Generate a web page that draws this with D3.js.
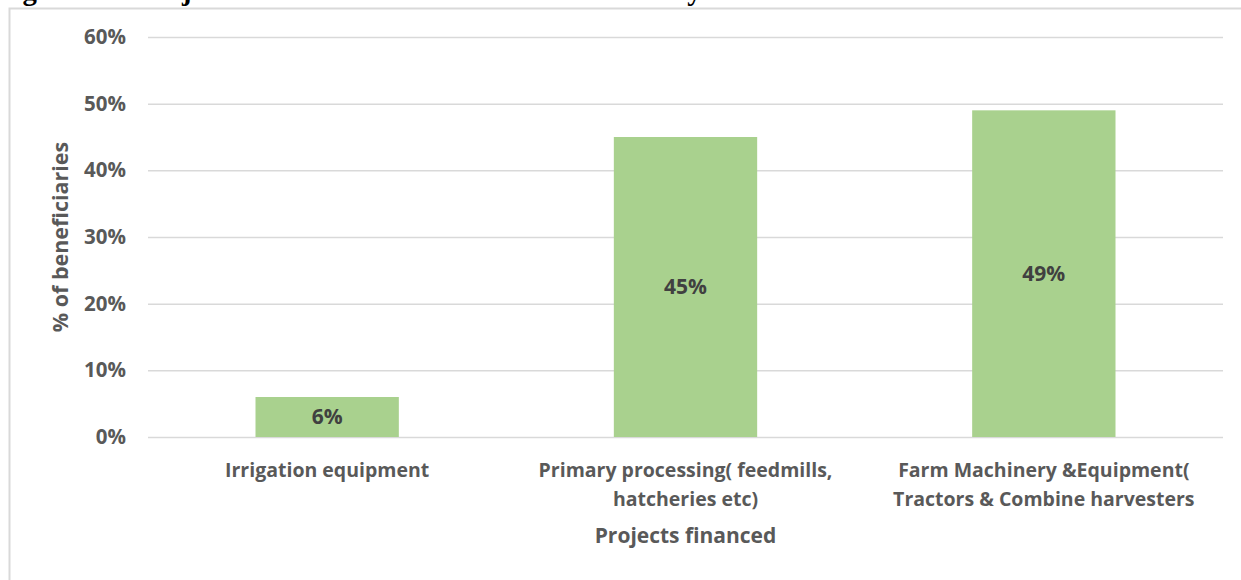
<!DOCTYPE html>
<html>
<head>
<meta charset="utf-8">
<script src="https://cdn.jsdelivr.net/npm/d3@7/dist/d3.min.js"></script>
<style>
  html, body { margin: 0; padding: 0; background: #fff; }
  svg { display: block; }
</style>
</head>
<body>
<svg id="chart" width="1241" height="580"></svg>
<script>
// Share of beneficiaries by type of project financed
const categories = [
  "Irrigation equipment",
  "Primary processing( feedmills,\nhatcheries etc)",
  "Farm Machinery &Equipment(\nTractors & Combine harvesters"
];
const shares = [6, 45, 49];            // percent of beneficiaries
const yTicks = [0, 10, 20, 30, 40, 50, 60];
const yTitle = "% of beneficiaries";
const xTitle = "Projects financed";
const figureTitle = "Figure 3.4: Projects financed under the Credit Scheme by Number of Beneficiaries";

const svg = d3.select("#chart");
const W = 1241, H = 580;
const margin = { top: 37, right: 18, bottom: 143, left: 148 };
const plotW = W - margin.left - margin.right;
const plotH = H - margin.top - margin.bottom;

const font = "'Open Sans', 'DejaVu Sans', sans-serif";
const axisGrey = "#595959";
const gridGrey = "#d9d9d9";
const barGreen = "#a9d18e";

// Figure caption sitting above the chart frame (runs off the top of the page)
const title = svg.append("text")
  .attr("x", -3)
  .attr("y", 0)
  .attr("font-family", "'Liberation Serif', 'Times New Roman', serif")
  .attr("font-weight", "bold")
  .attr("font-size", 20)
  .attr("fill", "#000")
  .text(figureTitle);
const tl = title.node().getComputedTextLength();
title.attr("font-size", 20 * 1010 / tl);

// Chart area frame (left and top edges)
svg.append("path")
  .attr("d", `M9.5,${H} L9.5,8.5 L${W},8.5`)
  .attr("fill", "none")
  .attr("stroke", gridGrey)
  .attr("stroke-width", 2);

const g = svg.append("g").attr("transform", `translate(${margin.left},${margin.top})`);

const x = d3.scaleBand()
  .domain(categories)
  .range([0, plotW])
  .paddingInner(0.6)
  .paddingOuter(0.3);

const y = d3.scaleLinear()
  .domain([0, 60])
  .range([plotH, 0]);

// Horizontal gridlines with percentage tick labels
const yAxis = g.append("g")
  .call(d3.axisLeft(y)
    .tickValues(yTicks)
    .tickSize(-plotW)
    .tickPadding(22)
    .tickFormat(d => d + "%"));
yAxis.select(".domain").remove();
yAxis.selectAll(".tick line")
  .attr("stroke", gridGrey)
  .attr("stroke-width", 1.5);
yAxis.selectAll(".tick text")
  .attr("font-family", font)
  .attr("font-weight", "bold")
  .attr("font-size", 20.5)
  .attr("fill", axisGrey);

// Bars
g.selectAll("rect.bar")
  .data(categories)
  .join("rect")
  .attr("class", "bar")
  .attr("x", d => x(d))
  .attr("width", x.bandwidth())
  .attr("y", (d, i) => y(shares[i]))
  .attr("height", (d, i) => y(0) - y(shares[i]))
  .attr("fill", barGreen);

// Value labels centred inside each bar
g.selectAll("text.value")
  .data(categories)
  .join("text")
  .attr("class", "value")
  .attr("x", d => x(d) + x.bandwidth() / 2)
  .attr("y", (d, i) => (y(shares[i]) + y(0)) / 2)
  .attr("dy", "0.35em")
  .attr("text-anchor", "middle")
  .attr("font-family", font)
  .attr("font-weight", "bold")
  .attr("font-size", 21)
  .attr("fill", "#404040")
  .text((d, i) => shares[i] + "%");

// Category labels (wrapped onto two lines where needed)
const xAxis = g.append("g")
  .attr("transform", `translate(0,${plotH})`);
categories.forEach(c => {
  const t = xAxis.append("text")
    .attr("x", x(c) + x.bandwidth() / 2)
    .attr("y", 40)
    .attr("text-anchor", "middle")
    .attr("font-family", font)
    .attr("font-weight", "bold")
    .attr("font-size", 19.5)
    .attr("fill", axisGrey);
  c.split("\n").forEach((line, i) => {
    t.append("tspan")
      .attr("x", x(c) + x.bandwidth() / 2)
      .attr("dy", i === 0 ? 0 : 29)
      .text(line);
  });
});

// Axis titles
g.append("text")
  .attr("x", plotW / 2)
  .attr("y", plotH + 106)
  .attr("text-anchor", "middle")
  .attr("font-family", font)
  .attr("font-weight", "bold")
  .attr("font-size", 21)
  .attr("fill", axisGrey)
  .text(xTitle);

g.append("text")
  .attr("transform", `translate(${68 - margin.left},${237 - margin.top}) rotate(-90)`)
  .attr("text-anchor", "middle")
  .attr("font-family", font)
  .attr("font-weight", "bold")
  .attr("font-size", 21.5)
  .attr("fill", axisGrey)
  .text(yTitle);
</script>
</body>
</html>
